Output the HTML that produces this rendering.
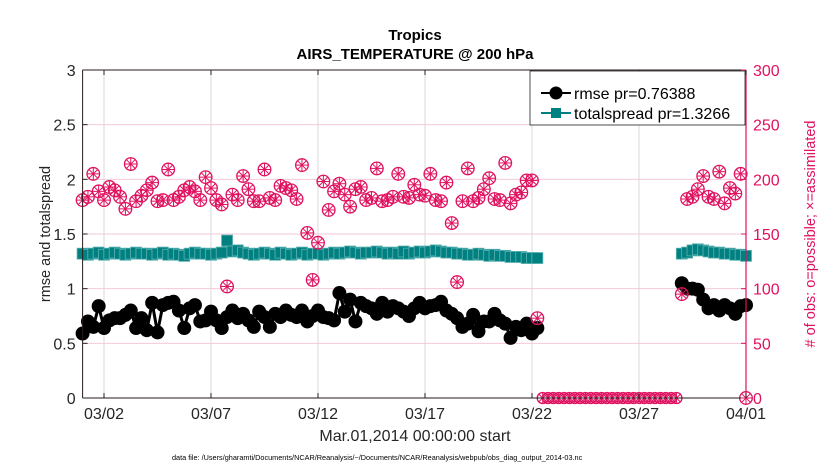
<!DOCTYPE html>
<html><head><meta charset="utf-8"><style>
body{margin:0;background:#fff;}
svg text{font-family:"Liberation Sans",sans-serif;}
</style></head><body>
<svg id="chart" width="830" height="470" xmlns="http://www.w3.org/2000/svg">
<g id="grid"></g><g id="marks"></g><g id="axes"></g>
</svg>
<script>
// Data arrays (time in days since Mar 01 00:00)
const obsSeg1 = [181,184,205,189,181,193,190,184,173,214,180,185,190,197,180,181,209,181,184,190,193,189,181,202,192,181,177,102,186,181,203,191,180,180,209,183,181,194,192,190,182,213,151,108,142,198,172,189,196,186,175,191,193,181,183,210,180,181,184,205,184,183,195,186,185,205,181,180,197,160,106,180,210,180,183,191,201,182,181,215,178,186,188,199,199,73];
const rmseSeg1 = [0.59,0.70,0.65,0.84,0.64,0.71,0.73,0.73,0.76,0.80,0.64,0.73,0.62,0.87,0.60,0.85,0.87,0.88,0.80,0.64,0.82,0.85,0.70,0.71,0.79,0.71,0.64,0.74,0.80,0.73,0.77,0.71,0.65,0.79,0.74,0.65,0.77,0.74,0.80,0.76,0.74,0.80,0.70,0.75,0.80,0.74,0.73,0.71,0.96,0.79,0.90,0.70,0.87,0.84,0.82,0.77,0.87,0.79,0.84,0.82,0.79,0.75,0.82,0.87,0.82,0.84,0.85,0.88,0.80,0.77,0.73,0.65,0.68,0.76,0.61,0.70,0.70,0.77,0.71,0.68,0.55,0.65,0.62,0.68,0.59,0.64];
const spreadSeg1 = [1.32,1.31,1.32,1.33,1.31,1.32,1.33,1.32,1.31,1.32,1.33,1.32,1.32,1.31,1.32,1.33,1.31,1.32,1.31,1.30,1.32,1.33,1.32,1.32,1.31,1.32,1.33,1.44,1.34,1.35,1.33,1.32,1.31,1.32,1.33,1.32,1.31,1.33,1.32,1.31,1.32,1.33,1.31,1.32,1.32,1.31,1.32,1.33,1.32,1.33,1.34,1.33,1.32,1.33,1.33,1.34,1.33,1.32,1.33,1.32,1.34,1.32,1.33,1.34,1.33,1.34,1.35,1.34,1.33,1.33,1.32,1.32,1.31,1.31,1.32,1.31,1.30,1.31,1.30,1.30,1.29,1.29,1.29,1.28,1.28,1.28];
const seg1Start = 0;
const zeroStart = 21.5, zeroEnd = 27.75;
const obsSeg3 = [95,182,184,191,203,184,182,207,178,192,187,205,0];
const rmseSeg3 = [1.05,1.00,1.00,0.99,0.90,0.82,0.85,0.80,0.85,0.82,0.77,0.84,0.85];
const spreadSeg3 = [1.32,1.33,1.35,1.36,1.35,1.34,1.33,1.33,1.32,1.32,1.31,1.31,1.30];
const seg3Start = 28;
const step = 0.25;
const xTickDays = [1,6,11,16,21,26,31];
const xTickLabels = ["03/02","03/07","03/12","03/17","03/22","03/27","04/01"];
const yLeftTicks = [0,0.5,1,1.5,2,2.5,3];
const yRightTicks = [0,50,100,150,200,250,300];

const X0=82.6, X1=746, Y0=398, Y1=70;
const xs = d => X0 + d/31*(X1-X0);
const yl = v => Y0 - v/3*(Y0-Y1);
const yr = v => Y0 - v/300*(Y0-Y1);
const NS="http://www.w3.org/2000/svg";
const grid=document.getElementById('grid'), marks=document.getElementById('marks'), axes=document.getElementById('axes');
function mk(tag,attrs,parent,text){const e=document.createElementNS(NS,tag);for(const k in attrs)e.setAttribute(k,attrs[k]);if(text!==undefined)e.textContent=text;parent.appendChild(e);return e;}

// grid
yRightTicks.forEach(v=>{const l=mk('line',{x1:X0,x2:X1,y1:yr(v),y2:yr(v),stroke:'#f6c8da','stroke-width':1},grid);

});
xTickDays.forEach(d=>{const l=mk('line',{x1:xs(d),x2:xs(d),y1:Y0,y2:Y1,stroke:'#d8d8d8','stroke-width':1},grid);

});

function series(arr,start){return arr.map((v,i)=>({d:start+i*step,v:v}));}
const rm1=series(rmseSeg1,seg1Start), rm3=series(rmseSeg3,seg3Start);
const sp1=series(spreadSeg1,seg1Start), sp3=series(spreadSeg3,seg3Start);
const ob1=series(obsSeg1,seg1Start), ob3=series(obsSeg3,seg3Start);
const zeros=[];for(let d=zeroStart;d<=zeroEnd+1e-9;d+=step)zeros.push({d:d,v:0});

[sp1,sp3].forEach(s=>{
 const p=mk('polyline',{points:s.map(o=>xs(o.d)+','+yl(o.v)).join(' '),fill:'none',stroke:'#008080','stroke-width':3},marks);
 
 
 s.forEach(o=>{const r=mk('rect',{x:xs(o.d)-5.5,y:yl(o.v)-5.5,width:11,height:11,fill:'#008080',stroke:'#5fb3b3','stroke-width':0.8},marks);
 
 });
});
[rm1,rm3].forEach(s=>{
 const p=mk('polyline',{points:s.map(o=>xs(o.d)+','+yl(o.v)).join(' '),fill:'none',stroke:'#000','stroke-width':3},marks);
 
 
 s.forEach(o=>{const c=mk('circle',{cx:xs(o.d),cy:yl(o.v),r:7,fill:'#000'},marks);
 
 });
});
function obsMark(o,r){const g=mk('g',{},marks);
 
 
 const cx=xs(o.d),cy=yr(o.v);
 mk('circle',{cx:cx,cy:cy,r:r,fill:'none',stroke:'#e0115f','stroke-width':1.3},g);
 for(let k=0;k<4;k++){const a=k*Math.PI/4;mk('line',{x1:cx-r*Math.cos(a),y1:cy-r*Math.sin(a),x2:cx+r*Math.cos(a),y2:cy+r*Math.sin(a),stroke:'#e0115f','stroke-width':1},g);}
}
ob1.forEach(o=>obsMark(o,6.3));
ob3.forEach(o=>obsMark(o,6.3));
zeros.forEach(o=>obsMark(o,5.5));

mk('line',{x1:X0,x2:X0,y1:Y1,y2:Y0,stroke:'#2a1a1a','stroke-width':1},axes);
mk('line',{x1:X0,x2:X1,y1:Y0,y2:Y0,stroke:'#2a1a1a','stroke-width':1},axes);
mk('line',{x1:X0,x2:X1,y1:Y1,y2:Y1,stroke:'#2a1a1a','stroke-width':1},axes);
mk('line',{x1:X1,x2:X1,y1:Y1,y2:Y0,stroke:'#e0115f','stroke-width':1.2},axes);
yLeftTicks.forEach(v=>{mk('line',{x1:X0,x2:X0+5,y1:yl(v),y2:yl(v),stroke:'#222'},axes);
 const t=mk('text',{x:X0-7,y:yl(v)+6,'text-anchor':'end','font-size':16,fill:'#262626'},axes,String(v));
 
 });
yRightTicks.forEach(v=>{mk('line',{x1:X1-5,x2:X1,y1:yr(v),y2:yr(v),stroke:'#e0115f'},axes);
 const t=mk('text',{x:X1+7,y:yr(v)+6,'font-size':16,fill:'#e0115f'},axes,String(v));
 
 });
xTickDays.forEach((d,i)=>{mk('line',{x1:xs(d),x2:xs(d),y1:Y0,y2:Y0-5,stroke:'#222'},axes);
 mk('line',{x1:xs(d),x2:xs(d),y1:Y1,y2:Y1+5,stroke:'#222'},axes);
 const t=mk('text',{x:xs(d),y:Y0+21,'text-anchor':'middle','font-size':16,fill:'#262626'},axes,xTickLabels[i]);
 
 });
</script>
<svg style="position:absolute;left:0;top:0" width="830" height="470" xmlns="http://www.w3.org/2000/svg">
<text x="415" y="40" text-anchor="middle" font-size="15" font-weight="bold" fill="#000">Tropics</text>
<text x="415" y="59" text-anchor="middle" font-size="15" font-weight="bold" fill="#000">AIRS_TEMPERATURE @ 200 hPa</text>
<text x="415" y="441" text-anchor="middle" font-size="16" fill="#262626">Mar.01,2014 00:00:00 start</text>
<text x="172" y="460" font-size="7.3" fill="#000">data file: /Users/gharamti/Documents/NCAR/Reanalysis/~/Documents/NCAR/Reanalysis/webpub/obs_diag_output_2014-03.nc</text>
<text transform="translate(50,234) rotate(-90)" text-anchor="middle" font-size="14.5" fill="#262626">rmse and totalspread</text>
<text transform="translate(815,234) rotate(-90)" text-anchor="middle" font-size="14.5" fill="#e0115f"># of obs: o=possible; ×=assimilated</text>
<g>
<rect x="530" y="71" width="215" height="54" fill="#fff" stroke="#222" stroke-width="0.8"/>
<line x1="541" x2="571" y1="93" y2="93" stroke="#000" stroke-width="2"/><circle cx="556" cy="93" r="6.5" fill="#000"/>
<text x="574" y="99" font-size="16" fill="#000">rmse pr=0.76388</text>
<line x1="541" x2="571" y1="113" y2="113" stroke="#008080" stroke-width="2"/><rect x="551" y="108" width="10" height="10" fill="#008080"/>
<text x="574" y="119" font-size="16" fill="#000">totalspread pr=1.3266</text>
</g>
</svg>
</body></html>
